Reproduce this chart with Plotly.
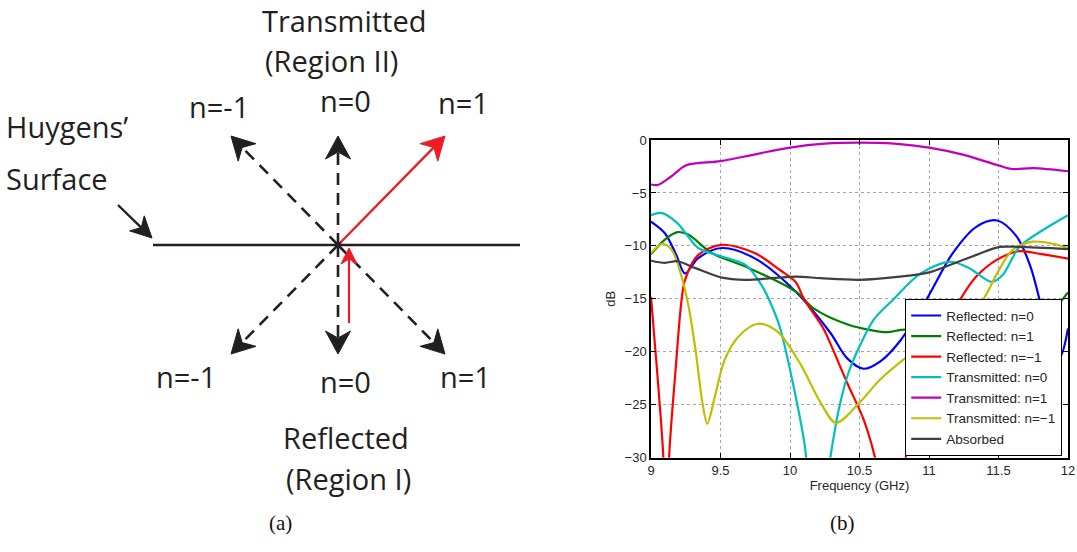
import numpy as np
import plotly.graph_objects as go

W, H = 1077, 552

# ---------------- (b) diffraction efficiencies vs frequency ----------------
names = ["Reflected: n=0", "Reflected: n=1", "Reflected: n=\u22121",
         "Transmitted: n=0", "Transmitted: n=1", "Transmitted: n=\u22121", "Absorbed"]
colors = ["#0000ff", "#008000", "#ff0000", "#00bfbf", "#bf00bf", "#bfbf00", "#404040"]

f_r0 = [9, 9.1, 9.18, 9.245, 9.34, 9.51, 9.75, 10.04, 10.29, 10.41, 10.53, 10.65, 10.79,
        10.98, 11.17, 11.34, 11.49, 11.63, 11.73, 11.81, 11.88, 11.94, 12]
db_r0 = [-7.7, -8.8, -10.8, -12.6, -11.15, -10.2, -11.2, -14.3, -18.2, -20.6, -21.6, -20.9, -19.0,
         -15.1, -10.7, -8.2, -7.6, -9.1, -11.95, -15.85, -19.5, -20.5, -17.8]

f_r1 = [9, 9.1, 9.19, 9.27, 9.44, 9.68, 10.04, 10.17, 10.41, 10.6, 10.7, 10.83, 11.1, 11.4,
        11.7, 11.9, 12]
db_r1 = [-10.8, -9.4, -8.7, -8.95, -10.7, -11.95, -14.3, -15.9, -17.4, -18.0, -18.15, -17.9,
         -18.5, -19.5, -18.5, -16.0, -14.4]

f_rm1 = [9, 9.045, 9.089, 9.11, 9.13, 9.175, 9.22, 9.245, 9.34, 9.51, 9.75, 9.93, 10.04, 10.1,
         10.24, 10.29, 10.41, 10.53, 10.61, 10.73, 10.84, 11.0, 11.21, 11.34, 11.49, 11.65, 11.8, 12]
db_rm1 = [-14.8, -22, -30, -40, -30, -22, -15.1, -13.2, -10.85, -9.9, -10.7, -12.3, -13.4, -15.0,
          -17.8, -19.2, -22.9, -26.4, -29.9, -38, -29.5, -21, -15.4, -12.9, -11.3, -10.5, -10.75, -11.2]

f_t0 = [9, 9.08, 9.19, 9.34, 9.51, 9.68, 9.8, 9.87, 9.93, 10.02, 10.1, 10.2, 10.29, 10.35,
        10.42, 10.5, 10.6, 10.74, 10.94, 11.15, 11.29, 11.45, 11.53, 11.65, 11.82, 12]
db_t0 = [-7.1, -6.9, -7.85, -10.2, -11.0, -11.8, -13.8, -15.7, -17.8, -22.9, -28.3, -38, -30, -25.5,
         -22, -19.5, -17, -15.1, -12.6, -11.5, -12.1, -13.4, -12.75, -10.1, -8.5, -7.1]

f_t1 = [9, 9.05, 9.15, 9.25, 9.5, 9.75, 10, 10.25, 10.5, 10.75, 11, 11.25, 11.5, 11.6, 11.75, 12]
db_t1 = [-4.2, -4.25, -3.4, -2.4, -2.0, -1.35, -0.72, -0.35, -0.25, -0.35, -0.72, -1.4, -2.4,
         -2.75, -2.65, -2.95]

f_tm1 = [9, 9.08, 9.15, 9.22, 9.27, 9.32, 9.37, 9.405, 9.46, 9.53, 9.63, 9.77, 9.91, 10.07,
         10.22, 10.33, 10.5, 10.65, 10.83, 11.1, 11.37, 11.49, 11.6, 11.75, 11.89, 12]
db_tm1 = [-10.7, -9.8, -10.4, -12.9, -15.7, -19.8, -24.8, -26.8, -24.2, -20.75, -18.55, -17.35,
          -18.1, -21.05, -24.8, -26.7, -24.8, -22.6, -20.6, -18.0, -15.4, -12.6, -10.4, -9.6, -9.8, -10.2]

f_abs = [9, 9.1, 9.19, 9.32, 9.51, 9.68, 10.04, 10.22, 10.5, 10.79, 11.0, 11.15, 11.34, 11.51,
         11.65, 12]
db_abs = [-11.4, -11.6, -11.45, -12.1, -13.0, -13.2, -12.9, -13.05, -13.2, -12.9, -12.5, -11.8,
          -10.85, -10.1, -10.1, -10.3]

freqs = [f_r0, f_r1, f_rm1, f_t0, f_t1, f_tm1, f_abs]
levels = [db_r0, db_r1, db_rm1, db_t0, db_t1, db_tm1, db_abs]

x_ticks = [9, 9.5, 10, 10.5, 11, 11.5, 12]
y_ticks = [0, -5, -10, -15, -20, -25, -30]

# ---------------- (a) diagram: orders leaving the Huygens' surface ----------------
orders = [-1, 0, 1]
order_labels = ["n=-1", "n=0", "n=1"]
surface_x = [153, 520]          # horizontal extent of the surface (px)
origin = (338, 245)             # point where the rays meet
ray_dx, ray_dy = 107, 109       # offset of each ray tip from the origin
incident = [(349, 323), (349, 248)]
pointer = [(118, 205), (152, 238)]

INK = "#231f20"
RED = "#ed1c24"

fig = go.Figure()

for f, d, n, c in zip(freqs, levels, names, colors):
    fig.add_trace(go.Scatter(x=f, y=d, name=n, mode="lines",
                             line=dict(color=c, width=2.2, shape="spline", smoothing=0.9),
                             xaxis="x", yaxis="y"))


def head(tip, tail, L=23, Wd=12.5, notch=7):
    """Swept-back filled arrowhead pointing from tail to tip, plus its base point."""
    tip = np.array(tip, float)
    u = tip - np.array(tail, float)
    u /= np.linalg.norm(u)
    nrm = np.array([-u[1], u[0]])
    a = tip - L * u + Wd * nrm
    b = tip - (L - notch) * u
    c = tip - L * u - Wd * nrm
    pts = np.array([tip, a, b, c, tip])
    return pts, b


def add_shape_trace(xs, ys, **kw):
    fig.add_trace(go.Scatter(x=xs, y=ys, xaxis="x2", yaxis="y2", showlegend=False,
                             hoverinfo="skip", **kw))


ox, oy = origin

# surface line
add_shape_trace(surface_x, [oy, oy], mode="lines", line=dict(color=INK, width=2.6))

for n in orders:
    for side in (-1, 1):           # -1: transmitted (up), +1: reflected (down)
        tip = (ox + n * ray_dx, oy + side * ray_dy)
        red = (n == 1 and side == -1)
        col = RED if red else INK
        pts, base = head(tip, origin)
        add_shape_trace([ox, base[0]], [oy, base[1]], mode="lines",
                        line=dict(color=col, width=2.6 if not red else 2.4,
                                  dash=None if red else "12px,8px"))
        add_shape_trace(pts[:, 0], pts[:, 1], mode="lines", fill="toself",
                        fillcolor=col, line=dict(color=col, width=1))

# incident wave
pts, base = head(incident[1], incident[0], L=16, Wd=8, notch=5)
add_shape_trace([incident[0][0], base[0]], [incident[0][1], base[1]], mode="lines",
                line=dict(color=RED, width=2.2))
add_shape_trace(pts[:, 0], pts[:, 1], mode="lines", fill="toself", fillcolor=RED,
                line=dict(color=RED, width=1))

# pointer to the surface
pts, base = head(pointer[1], pointer[0], L=21, Wd=10.5, notch=6)
add_shape_trace([pointer[0][0], base[0]], [pointer[0][1], base[1]], mode="lines",
                line=dict(color=INK, width=2.4))
add_shape_trace(pts[:, 0], pts[:, 1], mode="lines", fill="toself", fillcolor=INK,
                line=dict(color=INK, width=1))

# small mark at the origin
add_shape_trace([ox], [oy], mode="markers",
                marker=dict(symbol="asterisk-open", size=7, color=INK,
                            line=dict(color=INK, width=1.6)))

DFONT = dict(family="Open Sans, Noto Sans, sans-serif", size=29, color=INK)
texts = [
    ("Transmitted", 344, 0, "center", "top"),
    ("(Region II)", 331, 60, "center", "middle"),
    ("Huygens\u2019", 5, 126, "left", "middle"),
    ("Surface", 5, 178, "left", "middle"),
    ("Reflected", 346, 437, "center", "middle"),
    ("(Region I)", 348, 478, "center", "middle"),
    (order_labels[0], 219, 106, "center", "middle"),
    (order_labels[1], 345, 100, "center", "middle"),
    (order_labels[2], 463, 102, "center", "middle"),
    (order_labels[0], 186, 376, "center", "middle"),
    (order_labels[1], 345, 381, "center", "middle"),
    (order_labels[2], 465, 376, "center", "middle"),
]

anns = []
for t, x, y, xa, ya in texts:
    anns.append(dict(text=t, x=x, y=y, xref="x2", yref="y2", showarrow=False,
                     xanchor=xa, yanchor=ya, borderpad=0, font=DFONT))

SFONT = dict(family="Liberation Serif, DejaVu Serif, serif", size=21, color="#111111")
anns.append(dict(text="(a)", x=280, y=523, xref="x2", yref="y2", showarrow=False, font=SFONT))
anns.append(dict(text="(b)", x=842, y=523, xref="x2", yref="y2", showarrow=False, font=SFONT))

TFONT = dict(family="Liberation Sans, Arial, sans-serif", size=13, color="#262626")
AX = dict(showline=True, linecolor="black", linewidth=1.5, mirror="ticks",
          ticks="inside", ticklen=5, tickcolor="black", automargin=False,
          showgrid=True, gridcolor="#a8a8a8", griddash="dot", gridwidth=1,
          zeroline=False, tickfont=TFONT)

fig.update_layout(
    template="none",
    width=W, height=H, margin=dict(l=0, r=0, t=0, b=0, autoexpand=False),
    paper_bgcolor="white", plot_bgcolor="rgba(0,0,0,0)",
    showlegend=True,
    xaxis=dict(AX, domain=[651 / W, 1068 / W], range=[9, 12], tickvals=x_ticks,
               title=dict(text="Frequency (GHz)", standoff=2, font=TFONT)),
    yaxis=dict(AX, domain=[1 - 457.7 / H, 1 - 140 / H], range=[-30, 0], tickvals=y_ticks,
               title=dict(text="dB", standoff=6, font=TFONT)),
    xaxis2=dict(domain=[0, 1], range=[0, W], visible=False, fixedrange=True,
                automargin=False),
    yaxis2=dict(domain=[0, 1], range=[H, 0], visible=False, fixedrange=True,
                automargin=False),
    legend=dict(x=905 / W, y=1 - 299 / H, xanchor="left", yanchor="top",
                bgcolor="white", bordercolor="black", borderwidth=1.2,
                font=dict(family="Liberation Sans, Arial, sans-serif", size=13.5,
                          color="#262626"),
                tracegroupgap=0, itemwidth=30, entrywidth=118, entrywidthmode="pixels"),
    annotations=anns,
)

fig.write_html("out.html")
